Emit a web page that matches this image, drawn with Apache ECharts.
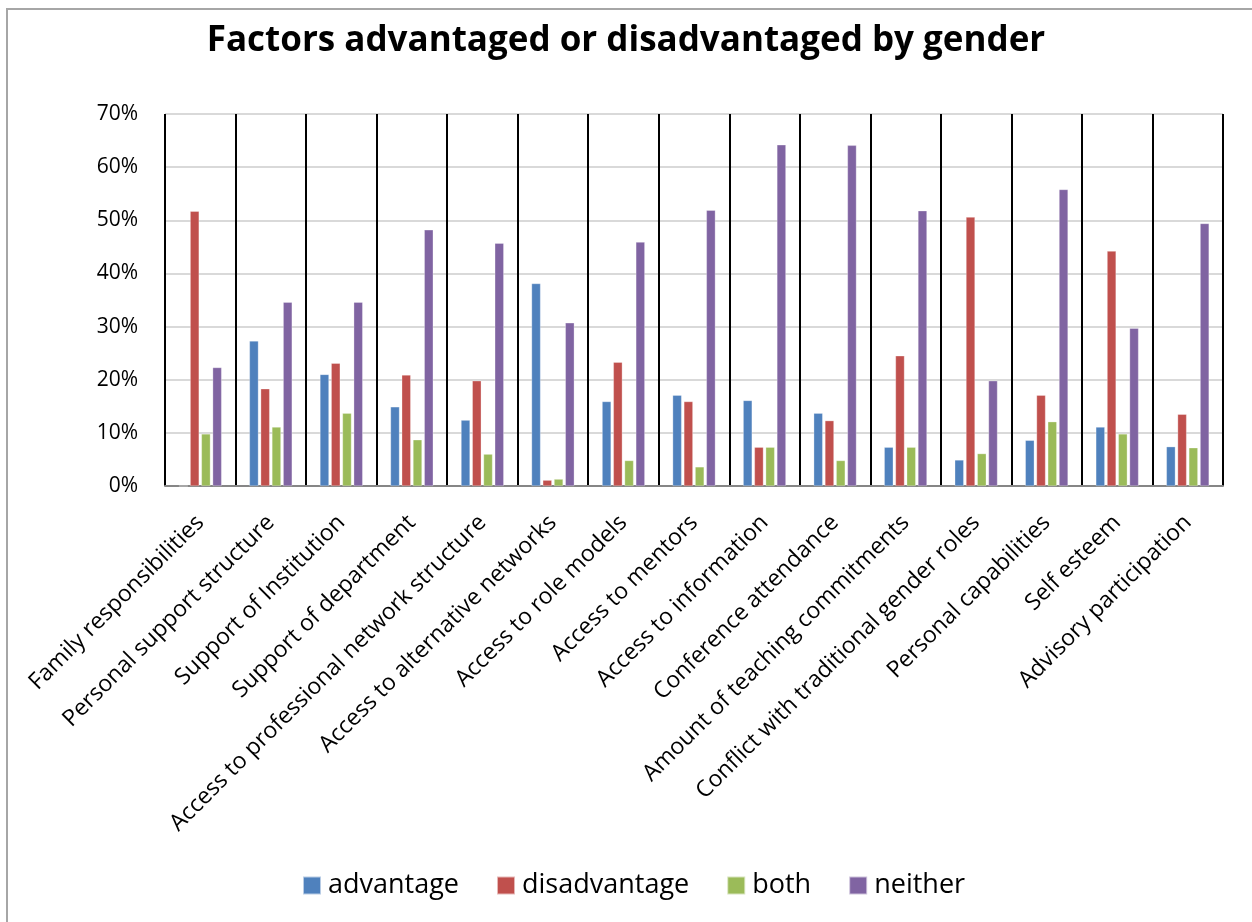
<!DOCTYPE html>
<html lang="en">
<head>
    <meta charset="UTF-8">
    <script src="https://cdn.jsdelivr.net/npm/echarts@6"></script>
    <title>Factors advantaged or disadvantaged by gender</title>
    <style>
        body { margin: 0; background: #ffffff; }
        #frame { position: absolute; left: 6px; top: 8px; width: 1250px; height: 920px; border: 2px solid #a6a6a6; box-sizing: border-box; }
        #chart { position: absolute; left: 0; top: 0; width: 1252px; height: 922px; }
    </style>
</head>
<body>
<div id="frame"></div>
<div id="chart"></div>

<script>
    const factors = [
        'Family responsibilities', 'Personal support structure', 'Support of Institution',
        'Support of department', 'Access to professional network structure',
        'Access to alternative networks', 'Access to role models', 'Access to mentors',
        'Access to information', 'Conference attendance', 'Amount of teaching commitments',
        'Conflict with traditional gender roles', 'Personal capabilities', 'Self esteem',
        'Advisory participation'
    ];
    const advantage    = [0, 27.3, 21.0, 14.9, 12.4, 38.1, 15.9, 17.1, 16.1, 13.7, 7.3, 4.9, 8.6, 11.1, 7.4];
    const disadvantage = [51.7, 18.3, 23.1, 20.9, 19.8, 1.1, 23.3, 15.9, 7.3, 12.3, 24.5, 50.6, 17.1, 44.2, 13.5];
    const both         = [9.8, 11.1, 13.7, 8.7, 6.0, 1.3, 4.8, 3.6, 7.3, 4.8, 7.3, 6.1, 12.1, 9.8, 7.2];
    const neither      = [22.3, 34.6, 34.6, 48.2, 45.7, 30.7, 45.9, 51.9, 64.2, 64.1, 51.8, 19.8, 55.8, 29.7, 49.4];
    const yTicks = [0, 10, 20, 30, 40, 50, 60, 70];

    const font = 'Open Sans';
    const chart = echarts.init(document.getElementById('chart'));

    function bar(name, data, color) {
        return {
            name: name,
            type: 'bar',
            data: data,
            barWidth: 9,
            barGap: '25%',
            itemStyle: { color: color, borderColor: 'rgba(255,255,255,0.6)', borderWidth: 0.5 }
        };
    }

    const option = {
        animation: false,
        title: {
            text: 'Factors advantaged or disadvantaged by gender',
            left: 'center',
            top: 19,
            textStyle: { fontFamily: font, fontWeight: 'bold', fontSize: 35, color: '#000000' }
        },
        legend: {
            top: 872,
            left: 302,
            padding: 0,
            itemWidth: 18,
            itemHeight: 18,
            itemGap: 37,
            icon: 'rect',
            textStyle: { fontFamily: font, fontSize: 27, color: '#000000', padding: [0, 0, 0, 2] },
            data: ['advantage', 'disadvantage', 'both', 'neither']
        },
        grid: { left: 165, right: 29, top: 114, bottom: 436, containLabel: false },
        xAxis: {
            type: 'category',
            data: factors,
            axisLine: { lineStyle: { color: '#868686', width: 2 } },
            axisTick: { show: false },
            axisLabel: {
                interval: 0,
                rotate: 45,
                margin: 33,
                fontFamily: font,
                fontSize: 23,
                color: '#000000'
            },
            splitLine: { show: true, lineStyle: { color: '#000000', width: 2 } }
        },
        yAxis: {
            type: 'value',
            min: yTicks[0],
            max: yTicks[yTicks.length - 1],
            interval: 10,
            axisLine: { show: false },
            axisTick: { show: false },
            axisLabel: {
                margin: 27,
                fontFamily: font,
                fontSize: 21,
                color: '#000000',
                formatter: v => v + '%'
            },
            splitLine: { lineStyle: { color: '#d9d9d9', width: 2 } }
        },
        series: [
            bar('advantage', advantage, '#4f81bd'),
            bar('disadvantage', disadvantage, '#c0504d'),
            bar('both', both, '#9bbb59'),
            bar('neither', neither, '#8064a2')
        ]
    };

    chart.setOption(option);
</script>
</body>
</html>
